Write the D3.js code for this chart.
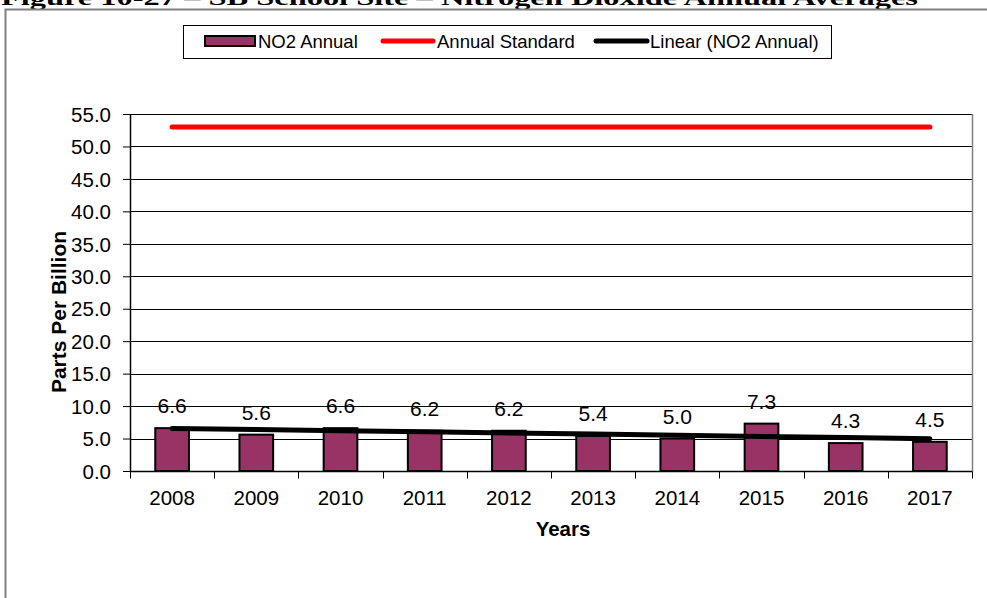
<!DOCTYPE html>
<html><head><meta charset="utf-8">
<script src="https://cdn.jsdelivr.net/npm/d3@7"></script>
<style>body{margin:0;background:#fff;}svg{display:block;}text{font-family:"Liberation Sans",Arial,sans-serif;}</style>
</head><body>
<script>
const years = ["2008","2009","2010","2011","2012","2013","2014","2015","2016","2017"];
const no2Annual = [6.6,5.6,6.6,6.2,6.2,5.4,5.0,7.3,4.3,4.5];
const annualStandard = [53,53,53,53,53,53,53,53,53,53];
const yTicks = [0,5,10,15,20,25,30,35,40,45,50,55];
const legendLabels = ["NO2 Annual","Annual Standard","Linear (NO2 Annual)"];
const titleText = "Figure 10-27 \u2013 SB School Site \u2013 Nitrogen Dioxide Annual Averages";

const W=987,H=598;
const svg=d3.select("body").append("svg").attr("width",W).attr("height",H);
const L=130,R=972,T=114,B=471;
const x=d3.scaleBand().domain(years).range([L,R]);
const y=d3.scaleLinear().domain([0,55]).range([B,T]);
const bw=x.bandwidth();

// title (clipped at top, as in the source)
svg.append("text").attr("x",1).attr("y",5)
  .style("font-family","Liberation Serif, serif").attr("font-weight","bold").attr("font-size",21)
  .attr("textLength",917).attr("lengthAdjust","spacingAndGlyphs").text(titleText);

// outer frame
svg.append("rect").attr("x",5.5).attr("y",9.5).attr("width",995).attr("height",600)
  .attr("fill","none").attr("stroke","#808080").attr("stroke-width",2);

// gridlines
svg.append("g").selectAll("line").data(yTicks.filter(d=>d>0)).join("line")
  .attr("x1",L).attr("x2",R).attr("y1",d=>Math.round(y(d))+0.5).attr("y2",d=>Math.round(y(d))+0.5)
  .attr("stroke","#000").attr("stroke-width",1);
svg.append("line").attr("x1",R+0.5).attr("x2",R+0.5).attr("y1",T).attr("y2",B+1).attr("stroke","#808080").attr("stroke-width",1.5);

// y axis
const yAxis=d3.axisLeft(y).tickValues(yTicks).tickFormat(d3.format(".1f")).tickSize(7).tickSizeOuter(0);
const gy=svg.append("g").attr("transform",`translate(${L},0)`).call(yAxis);
gy.select(".domain").attr("stroke","#000").attr("stroke-width",1.5);
gy.selectAll(".tick line").attr("stroke","#000");
gy.selectAll(".tick text").attr("font-size",20.5).attr("x",-19).attr("dy","0.35em").style("font-family","Liberation Sans, Arial, sans-serif").attr("fill","#000");

// x axis
const gx=svg.append("g").attr("transform",`translate(0,${Math.round(B)+0.5})`);
gx.append("line").attr("x1",L).attr("x2",R).attr("stroke","#000").attr("stroke-width",1.5);
gx.selectAll("line.t").data(years.concat(["end"])).join("line").attr("class","t")
  .attr("x1",(d,i)=>Math.round(L+i*bw)+0.5).attr("x2",(d,i)=>Math.round(L+i*bw)+0.5)
  .attr("y1",0).attr("y2",7).attr("stroke","#000");
gx.selectAll("text").data(years).join("text")
  .attr("x",d=>x(d)+bw/2).attr("y",33).attr("text-anchor","middle").attr("font-size",20.5).text(d=>d);

// bars
const barW=bw*0.4;
svg.append("g").selectAll("rect").data(no2Annual).join("rect")
  .attr("x",(d,i)=>x(years[i])+(bw-barW)/2).attr("y",d=>y(d)).attr("width",barW).attr("height",d=>B-y(d))
  .attr("fill","#993366").attr("stroke","#000").attr("stroke-width",2);

// annual standard line
const line=d3.line().x((d,i)=>x(years[i])+bw/2).y(d=>y(d));
svg.append("path").datum(annualStandard).attr("d",line).attr("fill","none").attr("stroke","#ff0000")
  .attr("stroke-width",5).attr("stroke-linecap","round");

// linear trend (least-squares fit of NO2 Annual)
const n=no2Annual.length, xs=d3.range(n);
const mx=d3.mean(xs), my=d3.mean(no2Annual);
const slope=d3.sum(xs,i=>(i-mx)*(no2Annual[i]-my))/d3.sum(xs,i=>(i-mx)*(i-mx));
const icpt=my-slope*mx;
const trend=xs.map(i=>icpt+slope*i);
svg.append("path").datum(trend).attr("d",line).attr("fill","none").attr("stroke","#000")
  .attr("stroke-width",5).attr("stroke-linecap","round");

// value labels
svg.append("g").selectAll("text").data(no2Annual).join("text")
  .attr("x",(d,i)=>x(years[i])+bw/2).attr("y",d=>y(d)-15).attr("text-anchor","middle")
  .attr("font-size",21).text(d=>d.toFixed(1));

// axis titles
svg.append("text").attr("x",563).attr("y",536).attr("text-anchor","middle").attr("font-weight","bold").attr("font-size",20.5).text("Years");
svg.append("text").attr("transform","translate(66,312) rotate(-90)").attr("text-anchor","middle").attr("font-weight","bold").attr("font-size",21).text("Parts Per Billion");

// legend
const lg=svg.append("g");
lg.append("rect").attr("x",183.5).attr("y",25.5).attr("width",648).attr("height",33).attr("fill","#fff").attr("stroke","#000").attr("stroke-width",1);
lg.append("rect").attr("x",205).attr("y",36).attr("width",50).attr("height",10).attr("fill","#993366").attr("stroke","#000").attr("stroke-width",2);
lg.append("line").attr("x1",383).attr("x2",433).attr("y1",41).attr("y2",41).attr("stroke","#ff0000").attr("stroke-width",5).attr("stroke-linecap","round");
lg.append("line").attr("x1",596).attr("x2",647).attr("y1",41).attr("y2",41).attr("stroke","#000").attr("stroke-width",5).attr("stroke-linecap","round");
const lx=[258,437,650];
lg.selectAll("text").data(legendLabels).join("text").attr("x",(d,i)=>lx[i]).attr("y",47.5).attr("font-size",18.5).text(d=>d);
</script>
</body></html>
